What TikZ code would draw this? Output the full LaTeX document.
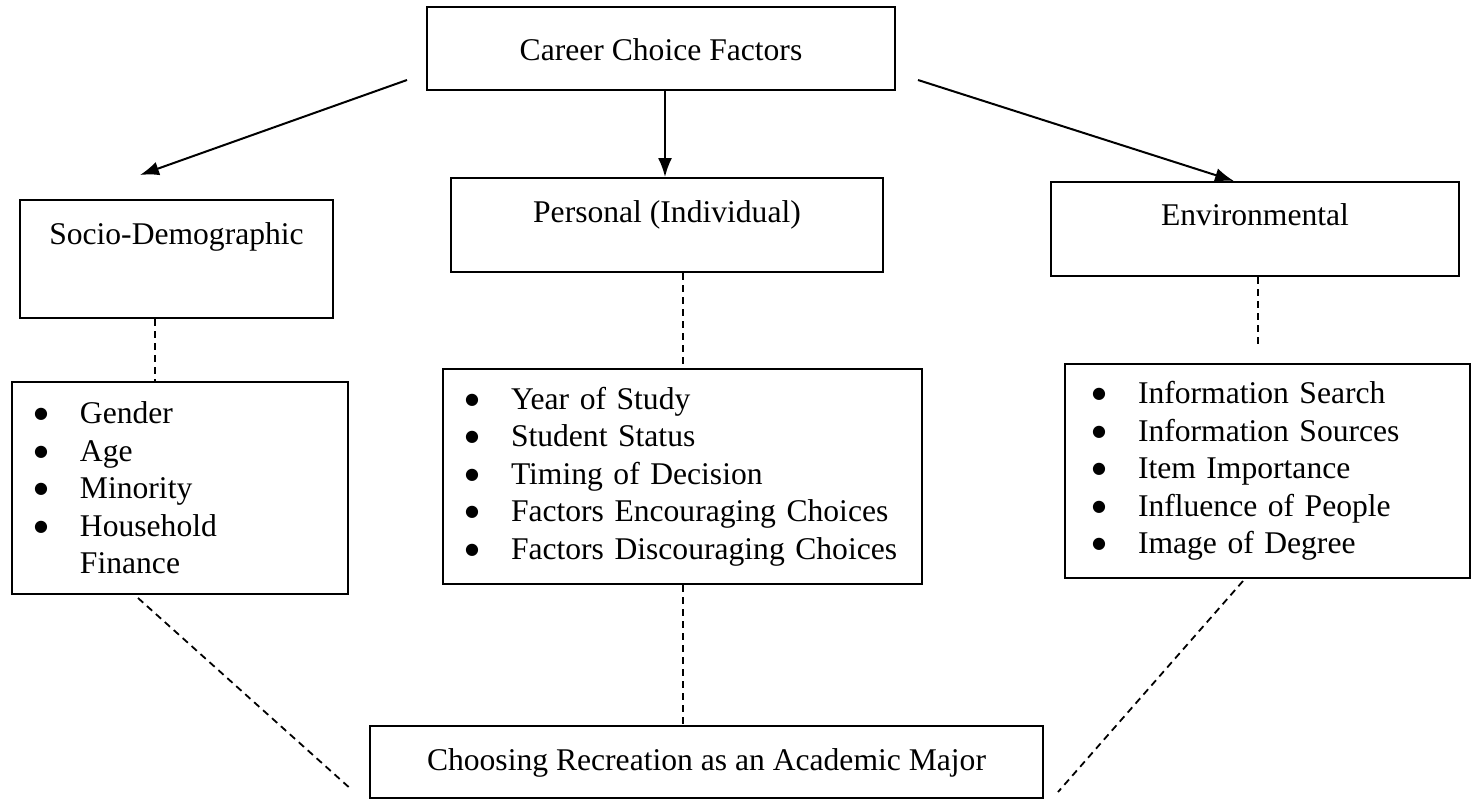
\documentclass[tikz,border=0pt]{standalone}
\usepackage{fontspec}
\setmainfont{Liberation Serif}
\newfontfamily\symfont{DejaVu Sans}
\usetikzlibrary{arrows.meta}
\newcommand{\blt}{\raisebox{5pt}{\symfont\fontsize{16}{16}\selectfont ●}}
\newcommand{\itm}[1]{\makebox[46pt][l]{\blt}#1}
\newcommand{\itmcont}[1]{\hspace*{46pt}#1}

\begin{document}
\begin{tikzpicture}[x=1pt, y=-1pt, >={Latex[length=19pt,width=14pt]},
  txt/.style={font=\fontsize{31.6}{37.5}\selectfont},
  box/.style={txt, draw, line width=2pt, inner sep=0pt, anchor=north, align=center},
  listbox/.style={txt, draw, line width=2pt, inner xsep=22pt, inner ysep=0pt, anchor=north, align=left},
  arr/.style={->, line width=2pt},
  link/.style={line width=1.8pt, dash pattern=on 7pt off 5pt}
]
\useasboundingbox (0,0) rectangle (1472,798);
\node[box, minimum width=468pt, text height=53pt, text depth=30pt] (ccf) at (661,6) {Career Choice Factors};
\node[box, minimum width=313pt, text height=44pt, text depth=74pt] (soc) at (176.5,199) {Socio-Demographic};
\node[box, minimum width=432pt, text height=44pt, text depth=50pt] (pers) at (667,177) {Personal (Individual)};
\node[box, minimum width=408pt, text height=43pt, text depth=51pt] (env) at (1255,181) {Environmental};
\node[listbox, text width=292pt, minimum height=212pt] (soclist) at (180,381)
  {\itm{Gender}\\ \itm{Age}\\ \itm{Minority}\\ \itm{Household}\\ \itmcont{Finance}};
\node[listbox, text width=435pt, minimum height=215pt] (perslist) at (682.5,368)
  {\itm{Year of Study}\\ \itm{Student Status}\\ \itm{Timing of Decision}\\ \itm{Factors Encouraging Choices}\\ \itm{Factors Discouraging Choices}};
\node[listbox, inner xsep=27pt, text width=351pt, minimum height=214pt] (envlist) at (1267.5,363)
  {\itm{Information Search}\\ \itm{Information Sources}\\ \itm{Item Importance}\\ \itm{Influence of People}\\ \itm{Image of Degree}};
\node[box, minimum width=673pt, text height=44pt, text depth=28pt] (major) at (706.5,725) {Choosing Recreation as an Academic Major};

\coordinate (aL0) at (407,80);
\coordinate (aL1) at (140,175);
\coordinate (aR0) at (918,80);
\coordinate (aR1) at (1234,181);
\coordinate (eEnd) at (1258,345);
\coordinate (dL0) at (138,598);
\coordinate (dL1) at (352,790);
\coordinate (dR0) at (1243,581);
\coordinate (dR1) at (1058,792);

\draw[arr] (aL0) -- (aL1);
\draw[arr] (ccf.south -| 665,0) -- (pers.north -| 665,0);
\draw[arr] (aR0) -- (aR1);
\draw[link] (soc.south -| 155,0) -- (soclist.north -| 155,0);
\draw[link] (pers.south -| 683,0) -- (perslist.north -| 683,0);
\draw[link] (env.south -| eEnd) -- (eEnd);
\draw[link] (perslist.south -| 683,0) -- (major.north -| 683,0);
\draw[link] (dL0) -- (dL1);
\draw[link] (dR0) -- (dR1);
\end{tikzpicture}
\end{document}
